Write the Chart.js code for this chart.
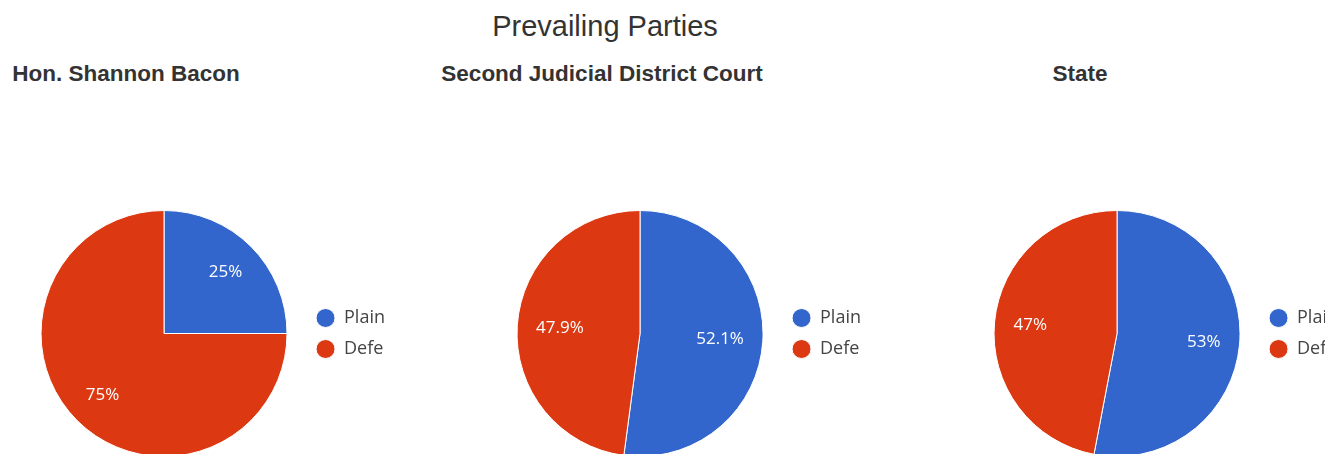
<!DOCTYPE html>
<html>
<head>
<meta charset="utf-8">
<script src="https://cdn.jsdelivr.net/npm/chart.js@4"></script>
<style>
  html, body { margin: 0; padding: 0; background: #fff; }
  body { width: 1325px; height: 454px; overflow: hidden; position: relative; font-family: "Liberation Sans", Arial, sans-serif; }
  .main-title { position: absolute; top: 10px; left: 605px; transform: translateX(-50%); font-size: 29px; color: #333; white-space: nowrap; }
  .sub { position: absolute; top: 61px; transform: translateX(-50%); font-size: 22.5px; font-weight: bold; color: #333; white-space: nowrap; }
  .box { position: absolute; top: 210px; width: 370px; height: 247px; }
</style>
</head>
<body>
<div class="main-title">Prevailing Parties</div>
<div class="sub" style="left:126px">Hon. Shannon Bacon</div>
<div class="sub" style="left:602px">Second Judicial District Court</div>
<div class="sub" style="left:1080px">State</div>
<div class="box" style="left:25px"><canvas id="pie1"></canvas></div>
<div class="box" style="left:501px"><canvas id="pie2"></canvas></div>
<div class="box" style="left:978px"><canvas id="pie3"></canvas></div>
<script>
// Legend entries (shown truncated in the original)
const parties = ['Plain', 'Defe'];
// Share of prevailing parties, percent
const baconShares = [25, 75];
const districtShares = [52.1, 47.9];
const stateShares = [53, 47];
const partyColors = ['#3366CC', '#DC3912'];

// writes the percent inside each slice
const pctLabels = {
  id: 'pctLabels',
  afterDatasetsDraw(chart) {
    const ctx = chart.ctx;
    const data = chart.data.datasets[0].data;
    const total = data.reduce((a, b) => a + b, 0);
    ctx.save();
    ctx.font = '17px "Open Sans"';
    ctx.fillStyle = '#fff';
    ctx.textAlign = 'center';
    ctx.textBaseline = 'middle';
    chart.getDatasetMeta(0).data.forEach((arc, i) => {
      const p = arc.getProps(['x', 'y', 'startAngle', 'endAngle', 'outerRadius'], true);
      const mid = (p.startAngle + p.endAngle) / 2;
      const txt = Math.round(data[i] / total * 1000) / 10 + '%';
      const w = ctx.measureText(txt).width;
      const proj = Math.abs(Math.cos(mid)) * w / 2 + Math.abs(Math.sin(mid)) * 8;
      const d = p.outerRadius * 0.85 - proj;
      ctx.fillText(txt, p.x + Math.cos(mid) * d, p.y + Math.sin(mid) * d);
    });
    ctx.restore();
  }
};

function makePie(id, values) {
  return new Chart(document.getElementById(id), {
    type: 'pie',
    data: {
      labels: parties,
      datasets: [{
        data: values,
        backgroundColor: partyColors,
        borderColor: '#fff',
        borderWidth: 1,
        hoverOffset: 0
      }]
    },
    options: {
      responsive: true,
      maintainAspectRatio: false,
      animation: false,
      layout: { padding: 0 },
      plugins: {
        tooltip: { enabled: false },
        legend: {
          position: 'right',
          labels: {
            usePointStyle: true,
            pointStyle: 'circle',
            pointStyleWidth: 19,
            boxHeight: 13.4,
            padding: 13,
            color: '#444',
            font: { family: 'Open Sans', size: 18 }
          }
        }
      }
    },
    plugins: [pctLabels]
  });
}

makePie('pie1', baconShares);
makePie('pie2', districtShares);
makePie('pie3', stateShares);
</script>
</body>
</html>
